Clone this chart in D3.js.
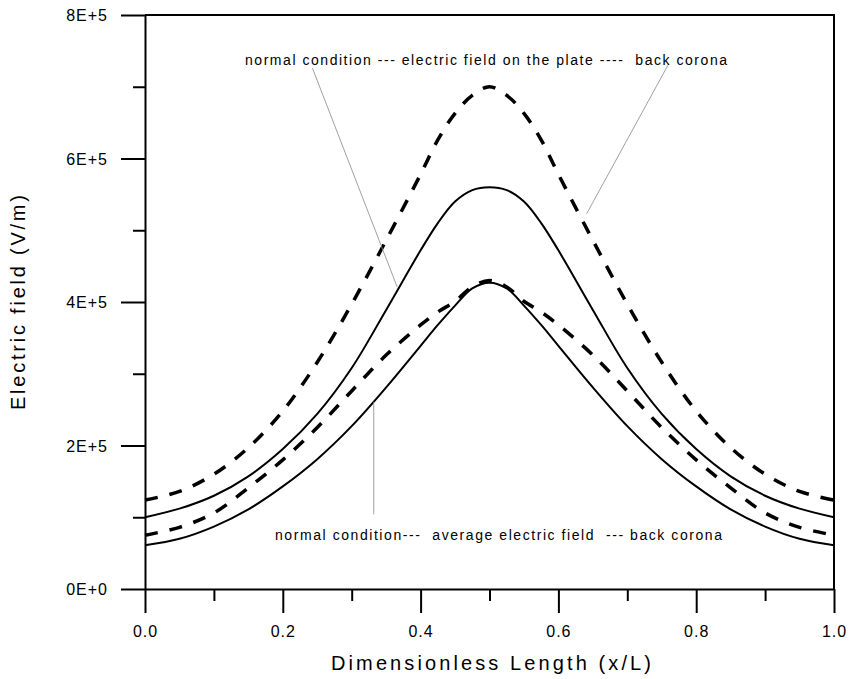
<!DOCTYPE html>
<html>
<head>
<meta charset="utf-8">
<script src="https://cdn.jsdelivr.net/npm/d3@7"></script>
<style>
	body { margin: 0; background: #fff; }
	text { font-family: "Liberation Sans", Arial, sans-serif; fill: #000; }
</style>
</head>
<body>
<div id="chart"></div>
<script>

// dimensionless length x/L
var xValues = [0, 0.05, 0.1, 0.15, 0.2, 0.25, 0.3, 0.35, 0.4, 0.425, 0.45, 0.475, 0.5,
	0.525, 0.55, 0.575, 0.6, 0.65, 0.7, 0.75, 0.8, 0.85, 0.9, 0.95, 1.0];

// electric field on the plate (V/m)
var plateBackCorona = [124000, 136000, 160000, 197000, 248000, 316000, 397000, 486000, 578000, 626000, 663000, 688000, 700000,
	688000, 663000, 626000, 578000, 486000, 397000, 316000, 248000, 197000, 160000, 136000, 124000];
var plateNormal = [100000, 112000, 130000, 157000, 195000, 244000, 308000, 389000, 472000, 510000, 540000, 556000, 560000,
	556000, 540000, 510000, 472000, 389000, 308000, 244000, 195000, 157000, 130000, 112000, 100000];

// average electric field (V/m)
var averageBackCorona = [75000, 86000, 106000, 141000, 180000, 225000, 276000, 326000, 368000, 386000, 401000, 421000, 430000,
	421000, 401000, 386000, 368000, 326000, 276000, 225000, 180000, 141000, 106000, 86000, 75000];
var averageNormal = [61000, 70000, 87000, 111000, 143000, 181000, 227000, 281000, 339000, 368000, 395000, 419000, 427000,
	419000, 395000, 368000, 339000, 281000, 227000, 181000, 143000, 111000, 87000, 70000, 61000];

var xTicks = [0, 0.2, 0.4, 0.6, 0.8, 1.0];
var xMinorTicks = [0.1, 0.3, 0.5, 0.7, 0.9];
var yTicks = [0, 200000, 400000, 600000, 800000];
var yMinorTicks = [100000, 300000, 500000, 700000];
var yTickLabels = ["0E+0", "2E+5", "4E+5", "6E+5", "8E+5"];

var topNote = "normal condition --- electric field on the plate ----  back corona";
var bottomNote = "normal condition---  average electric field  --- back corona";

function init(){

	var w = 850;
	var h = 679;

	var svg = d3.select("#chart")
				.append("svg")
				.attr("width", w)
				.attr("height", h);

	var x = d3.scaleLinear().domain([0, 1]).range([145, 834]);
	var y = d3.scaleLinear().domain([0, 800000]).range([589, 15]);

	//minor ticks first, then major ones with labels
	svg.append("g")
		.attr("transform", "translate(0," + y(0) + ")")
		.call(d3.axisBottom(x).tickValues(xMinorTicks).tickSize(12).tickFormat(""))
		.call(function(g){ g.select(".domain").remove(); });
	svg.append("g")
		.attr("transform", "translate(" + x(0) + ",0)")
		.call(d3.axisLeft(y).tickValues(yMinorTicks).tickSize(12).tickFormat(""))
		.call(function(g){ g.select(".domain").remove(); });

	var xAxis = svg.append("g")
		.attr("transform", "translate(0," + y(0) + ")")
		.call(d3.axisBottom(x).tickValues(xTicks).tickSize(24).tickSizeOuter(0).tickPadding(10)
			.tickFormat(d3.format(".1f")));
	var yAxis = svg.append("g")
		.attr("transform", "translate(" + x(0) + ",0)")
		.call(d3.axisLeft(y).tickValues(yTicks).tickSize(24).tickSizeOuter(0).tickPadding(13)
			.tickFormat(function(d, i){ return yTickLabels[i]; }));

	svg.selectAll(".tick line, .domain")
		.attr("stroke", "#000")
		.attr("stroke-width", 2);
	svg.selectAll(".tick text")
		.style("font-size", "16px")
		.style("letter-spacing", "1px")
		.style("font-family", "'Liberation Sans', Arial, sans-serif");
	xAxis.selectAll(".tick text").attr("dy", "0.9em");
	yAxis.selectAll(".tick text").attr("dy", "0.35em");

	//frame on top and right
	svg.append("path")
		.attr("d", "M" + x(0) + "," + y(800000) + "H" + x(1) + "V" + y(0))
		.attr("fill", "none")
		.attr("stroke", "#000")
		.attr("stroke-width", 2);

	var line = function(values){
		return d3.line()
			.x(function(d, i){ return x(xValues[i]); })
			.y(function(d){ return y(d); })
			.curve(d3.curveCatmullRom.alpha(0.5))(values);
	};

	var series = [
		{ values: plateNormal, dash: null, width: 2 },
		{ values: averageNormal, dash: null, width: 2 },
		{ values: plateBackCorona, dash: "13,12", width: 3.5 },
		{ values: averageBackCorona, dash: "13,12", width: 3.5 }
	];

	svg.selectAll("path.curve")
		.data(series)
		.enter()
		.append("path")
		.attr("class", "curve")
		.attr("d", function(d){ return line(d.values); })
		.attr("fill", "none")
		.attr("stroke", "#000")
		.attr("stroke-width", function(d){ return d.width; })
		.attr("stroke-dasharray", function(d){ return d.dash; });

	//leader lines for the notes
	var leaders = [
		[0.243, 726000, 0.366, 421000],
		[0.759, 730000, 0.641, 523000],
		[0.332, 261000, 0.332, 104000]
	];
	svg.selectAll("line.leader")
		.data(leaders)
		.enter()
		.append("line")
		.attr("class", "leader")
		.attr("x1", function(d){ return x(d[0]); })
		.attr("y1", function(d){ return y(d[1]); })
		.attr("x2", function(d){ return x(d[2]); })
		.attr("y2", function(d){ return y(d[3]); })
		.attr("stroke", "#888")
		.attr("stroke-width", 0.8);

	svg.append("text")
		.attr("x", 245)
		.attr("y", 65)
		.attr("textLength", 482)
		.attr("lengthAdjust", "spacing")
		.style("font-size", "14px")
		.style("white-space", "pre")
		.text(topNote);

	svg.append("text")
		.attr("x", 275)
		.attr("y", 540)
		.attr("textLength", 447)
		.attr("lengthAdjust", "spacing")
		.style("font-size", "14px")
		.style("white-space", "pre")
		.text(bottomNote);

	//axis titles
	svg.append("text")
		.attr("x", 331)
		.attr("y", 670)
		.attr("textLength", 320)
		.attr("lengthAdjust", "spacing")
		.style("font-size", "20px")
		.text("Dimensionless Length (x/L)");

	svg.append("text")
		.attr("transform", "translate(25,410) rotate(-90)")
		.attr("textLength", 215)
		.attr("lengthAdjust", "spacing")
		.style("font-size", "20px")
		.text("Electric field (V/m)");
}

window.onload = init;
</script>
</body>
</html>
